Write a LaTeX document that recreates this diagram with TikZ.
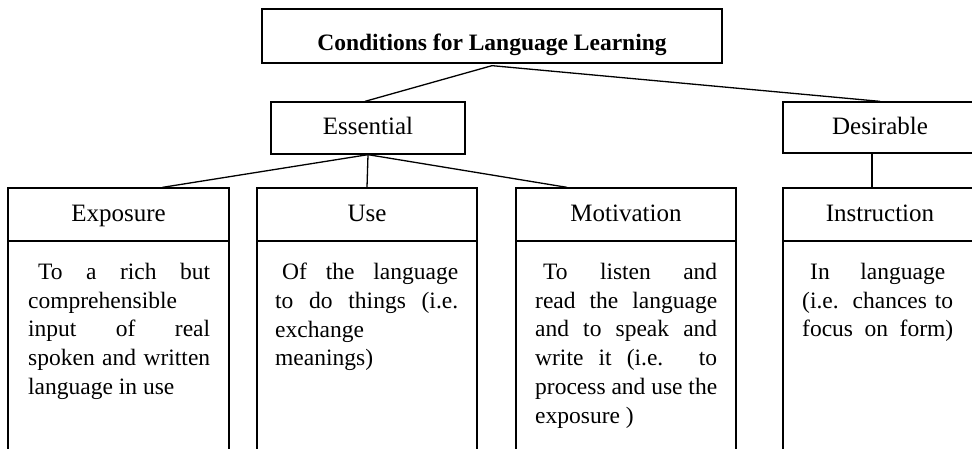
\documentclass[tikz,border=0pt]{standalone}
\usepackage{fontspec}
\setmainfont{Liberation Serif}
\begin{document}
\begin{tikzpicture}[x=1pt,y=-1pt,
  box/.style={draw, line width=1.3pt, rectangle, inner sep=0pt},
  link/.style={line width=1.3pt},
  head/.style={box, font=\fontsize{25}{29}\selectfont, text height=18pt, text depth=5pt},
  bodytext/.style={font=\fontsize{23.5}{28.7}\selectfont, anchor=north west, inner sep=0pt, align=left},
]
\useasboundingbox (0,0) rectangle (972,448);
\clip (0,0) rectangle (972,448);

% top level
\node[box, minimum width=460pt, minimum height=54pt, text height=28pt, text depth=0pt,
      font=\bfseries\fontsize{23.5}{28}\selectfont] (title) at (492,36) {Conditions for Language Learning};

% second level
\node[head, minimum width=194pt, minimum height=52pt] (ess) at (368,128) {Essential};
\node[head, minimum width=194pt, minimum height=51pt] (des) at (880,127.5) {Desirable};

% third level headers
\node[head, minimum width=221pt, minimum height=53pt] (exp) at (118.5,214.5) {Exposure};
\node[head, minimum width=220pt, minimum height=53pt] (use) at (367,214.5) {Use};
\node[head, minimum width=220pt, minimum height=53pt] (mot) at (626,214.5) {Motivation};
\node[head, minimum width=194pt, minimum height=53pt] (ins) at (880,214.5) {Instruction};

% body boxes
\node[box, minimum width=221pt, minimum height=229pt] (expb) at (118.5,355.5) {};
\node[box, minimum width=220pt, minimum height=229pt] (useb) at (367,355.5) {};
\node[box, minimum width=220pt, minimum height=229pt] (motb) at (626,355.5) {};
\node[box, minimum width=194pt, minimum height=229pt] (insb) at (880,355.5) {};

% body texts
\node[bodytext] (expt) at (28,263) {%
\hspace*{10pt}\makebox[172pt][s]{To a rich but}\\
comprehensible\\
\makebox[182pt][s]{input of real}\\
\makebox[182pt][s]{spoken and written}\\
language in use};

\node[bodytext] (uset) at (275,263) {%
\hspace*{7pt}\makebox[176pt][s]{Of the language}\\
\makebox[183pt][s]{to do things (i.e.}\\
exchange\\
meanings)};

\node[bodytext] (mott) at (535,263) {%
\hspace*{8pt}\makebox[174pt][s]{To listen and}\\
\makebox[182pt][s]{read the language}\\
\makebox[182pt][s]{and to speak and}\\
\makebox[182pt][s]{write it (i.e. to}\\
\makebox[182pt][s]{process and use the}\\
exposure )};

\node[bodytext] (inst) at (802,263) {%
\hspace*{8pt}\makebox[135pt][s]{In language}\\
\makebox[151pt][s]{(i.e. chances to}\\
\makebox[151pt][s]{focus on form)}};

% connectors
\draw[link] ([yshift=-2pt]title.south) -- ([xshift=-3pt]ess.north);
\draw[link] ([yshift=-2pt]title.south) -- (des.north);
\draw[link] (ess.south) -- ([xshift=44pt]exp.north);
\draw[link] (ess.south) -- (use.north);
\draw[link] (ess.south) -- ([xshift=-59pt]mot.north);
\draw[link] ([xshift=-8pt]des.south) -- ([xshift=-8pt]ins.north);
\end{tikzpicture}
\end{document}
